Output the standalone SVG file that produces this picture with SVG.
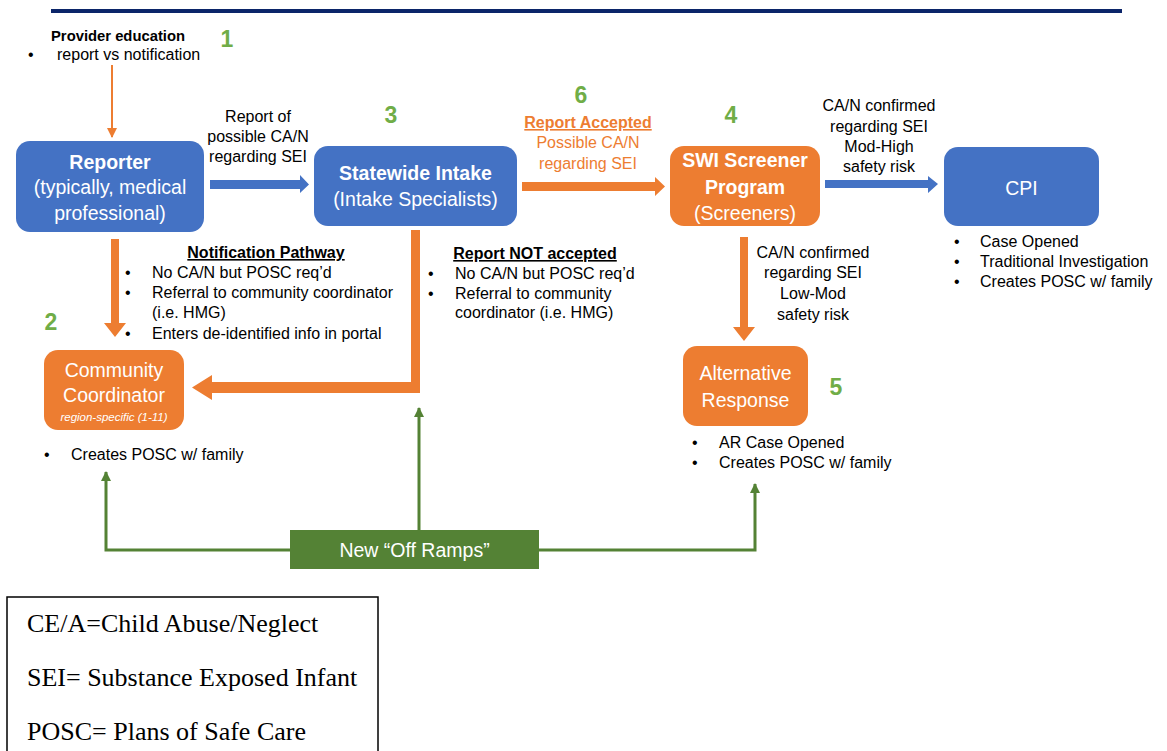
<svg xmlns="http://www.w3.org/2000/svg" width="1167" height="751" viewBox="0 0 1167 751">
<style>
text{font-family:"Liberation Sans",Arial,sans-serif;}
.lb{font-size:16px;fill:#000;}
.c{text-anchor:middle;}
.b{font-weight:bold;}
.u{text-decoration:underline;}
.num{font-size:23px;font-weight:bold;fill:#70AD47;text-anchor:middle;}
.bx{font-size:19.5px;fill:#fff;text-anchor:middle;}
.blue{fill:#4472C4;}
.orange{fill:#ED7D31;}
.gl{fill:none;stroke:#548235;stroke-width:3;}
.leg{font-family:"Liberation Serif","Times New Roman",serif;font-size:26px;fill:#000;}
</style>
<defs>
<marker id="ga" markerWidth="10" markerHeight="10" refX="9" refY="5" orient="auto" markerUnits="userSpaceOnUse" viewBox="0 0 10 10">
<path d="M0,0 L10,5 L0,10 Z" fill="#548235"/>
</marker>
<marker id="oa" markerWidth="10" markerHeight="10" refX="9" refY="5" orient="auto" markerUnits="userSpaceOnUse" viewBox="0 0 10 10">
<path d="M0,0 L10,5 L0,10 Z" fill="#ED7D31"/>
</marker>
</defs>
<rect width="1167" height="751" fill="#fff"/>
<line x1="51" y1="11" x2="1122" y2="11" stroke="#0B2569" stroke-width="4"/>

<g id="numbers">
<text class="num" x="227" y="47">1</text>
<text class="num" x="51" y="330">2</text>
<text class="num" x="391" y="123">3</text>
<text class="num" x="731" y="123">4</text>
<text class="num" x="836" y="395">5</text>
<text class="num" x="581" y="103">6</text>
</g>

<g id="provider-education">
<text class="lb b" x="51" y="41" style="font-size:14.8px">Provider education</text>
<text class="lb" x="28" y="60">•</text>
<text class="lb" x="57" y="60">report vs notification</text>
</g>

<g id="connectors">
<line x1="112" y1="65" x2="112" y2="137" stroke="#ED7D31" stroke-width="2" marker-end="url(#oa)"/>
<polygon class="blue" points="210,180 300,180 300,175 309,184.5 300,193 300,189 210,189"/>
<polygon class="orange" points="522,182 655,182 655,177 665,186.5 655,196 655,191 522,191"/>
<polygon class="blue" points="825,180 928,180 928,176 938,184 928,193 928,188 825,188"/>
<polygon class="orange" points="740,237 748,237 748,327 755,327 744,341 733,327 740,327"/>
<polygon class="orange" points="111,239 119,239 119,323 126,323 115,337 104,323 111,323"/>
<polygon class="orange" points="411,230 420,230 420,393 212,393 212,400 192,387.5 212,375 212,382 411,382"/>
<path class="gl" d="M290,550 H106 V472" marker-end="url(#ga)"/>
<path class="gl" d="M419,530 V408" marker-end="url(#ga)"/>
<path class="gl" d="M539,550 H755 V484" marker-end="url(#ga)"/>
</g>

<g id="label-report-of">
<text class="lb c" x="258" y="122">Report of</text>
<text class="lb c" x="258" y="142">possible CA/N</text>
<text class="lb c" x="258" y="162">regarding SEI</text>
</g>
<g id="label-report-accepted">
<text class="lb c b u" x="588" y="128" style="fill:#ED7D31">Report Accepted</text>
<text class="lb c" x="588" y="148" style="fill:#ED7D31">Possible CA/N</text>
<text class="lb c" x="588" y="169" style="fill:#ED7D31">regarding SEI</text>
</g>
<g id="label-mod-high">
<text class="lb c" x="879" y="111">CA/N confirmed</text>
<text class="lb c" x="879" y="132">regarding SEI</text>
<text class="lb c" x="879" y="152">Mod-High</text>
<text class="lb c" x="879" y="172">safety risk</text>
</g>
<g id="label-low-mod">
<text class="lb c" x="813" y="258">CA/N confirmed</text>
<text class="lb c" x="813" y="278">regarding SEI</text>
<text class="lb c" x="813" y="299">Low-Mod</text>
<text class="lb c" x="813" y="320">safety risk</text>
</g>
<g id="label-notification">
<text class="lb c b u" x="266" y="258">Notification Pathway</text>
<text class="lb" x="125" y="278">•</text><text class="lb" x="152" y="278">No CA/N but POSC req’d</text>
<text class="lb" x="125" y="298">•</text><text class="lb" x="152" y="298">Referral to community coordinator</text>
<text class="lb" x="152" y="318">(i.e. HMG)</text>
<text class="lb" x="125" y="339">•</text><text class="lb" x="152" y="339">Enters de-identified info in portal</text>
</g>
<g id="label-not-accepted">
<text class="lb c b u" x="535" y="259">Report NOT accepted</text>
<text class="lb" x="428" y="279">•</text><text class="lb" x="455" y="279">No CA/N but POSC req’d</text>
<text class="lb" x="428" y="299">•</text><text class="lb" x="455" y="299">Referral to community</text>
<text class="lb" x="455" y="318">coordinator (i.e. HMG)</text>
</g>

<g id="reporter">
<rect class="blue" x="16" y="141" width="188" height="91" rx="14"/>
<text class="bx b" x="110" y="169">Reporter</text>
<text class="bx" x="110" y="194">(typically, medical</text>
<text class="bx" x="110" y="220">professional)</text>
</g>
<g id="statewide-intake">
<rect class="blue" x="314" y="146" width="203" height="80" rx="14"/>
<text class="bx b" x="415.5" y="180">Statewide Intake</text>
<text class="bx" x="415.5" y="206">(Intake Specialists)</text>
</g>
<g id="swi-screener">
<rect class="orange" x="670" y="146" width="150" height="80" rx="14"/>
<text class="bx b" x="745" y="167">SWI Screener</text>
<text class="bx b" x="745" y="194">Program</text>
<text class="bx" x="745" y="220">(Screeners)</text>
</g>
<g id="cpi">
<rect class="blue" x="944" y="147" width="155" height="79" rx="14"/>
<text class="bx" x="1021.5" y="195">CPI</text>
<text class="lb" x="954" y="247">•</text><text class="lb" x="980" y="247">Case Opened</text>
<text class="lb" x="954" y="267">•</text><text class="lb" x="980" y="267">Traditional Investigation</text>
<text class="lb" x="954" y="287">•</text><text class="lb" x="980" y="287">Creates POSC w/ family</text>
</g>
<g id="community-coordinator">
<rect class="orange" x="44" y="350" width="140" height="80" rx="14"/>
<text class="bx" x="114" y="377">Community</text>
<text class="bx" x="114" y="402">Coordinator</text>
<text class="bx" x="114" y="421" style="font-size:11.5px;font-style:italic">region-specific (1-11)</text>
<text class="lb" x="44" y="460">•</text><text class="lb" x="71" y="460">Creates POSC w/ family</text>
</g>
<g id="alternative-response">
<rect class="orange" x="683" y="346" width="125" height="80" rx="14"/>
<text class="bx" x="745.5" y="380">Alternative</text>
<text class="bx" x="745.5" y="407">Response</text>
<text class="lb" x="692" y="448">•</text><text class="lb" x="719" y="448">AR Case Opened</text>
<text class="lb" x="692" y="468">•</text><text class="lb" x="719" y="468">Creates POSC w/ family</text>
</g>
<g id="off-ramps">
<rect x="290" y="530" width="249" height="39" fill="#548235"/>
<text class="bx" x="414.5" y="557">New “Off Ramps”</text>
</g>
<g id="legend">
<rect x="7" y="597" width="371" height="170" fill="#fff" stroke="#000" stroke-width="1.5"/>
<text class="leg" x="27" y="632">CE/A=Child Abuse/Neglect</text>
<text class="leg" x="27" y="686">SEI= Substance Exposed Infant</text>
<text class="leg" x="27" y="740">POSC= Plans of Safe Care</text>
</g>
</svg>
